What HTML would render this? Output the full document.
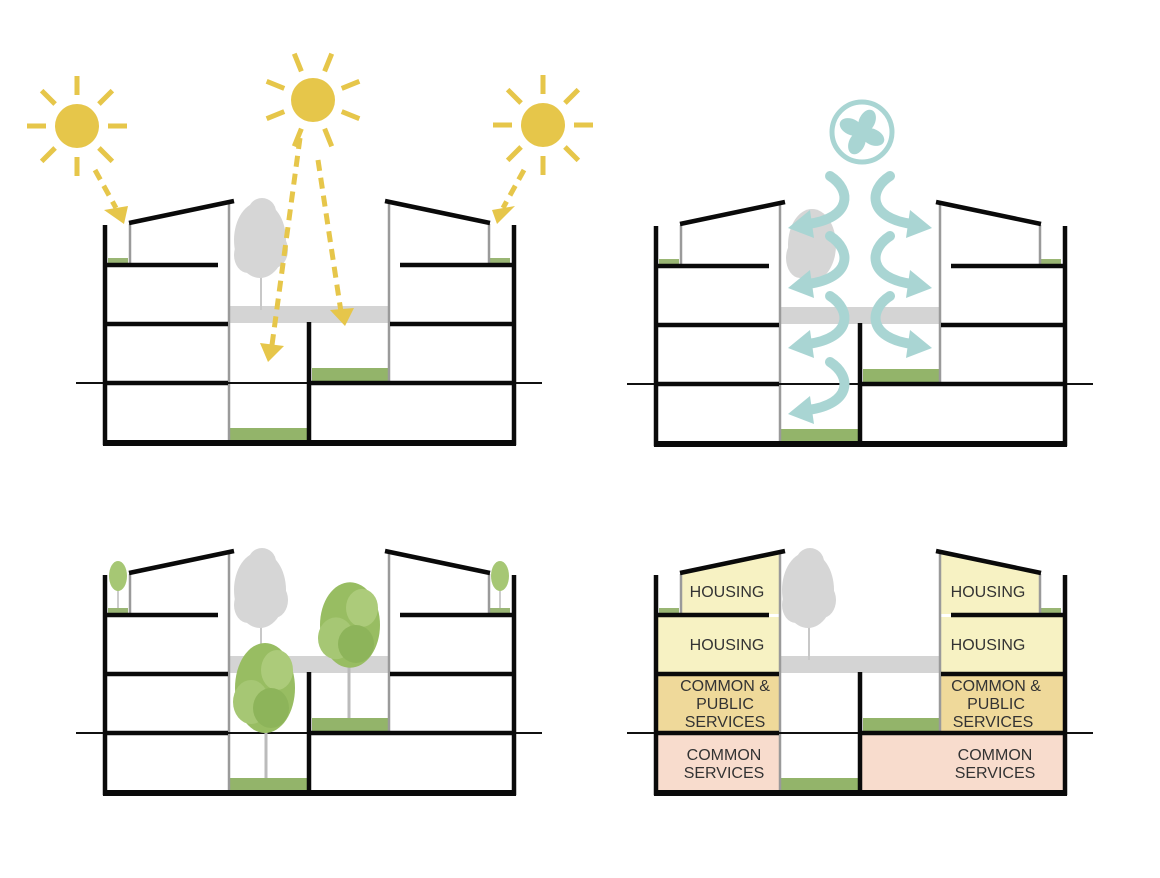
<!DOCTYPE html>
<html><head><meta charset="utf-8"><style>
html,body{margin:0;padding:0;background:#fff;}
svg{display:block;}
text{font-family:"Liberation Sans",sans-serif;font-size:16px;fill:#333;text-anchor:middle;}
</style></head><body>
<svg width="1160" height="878" viewBox="0 0 1160 878" xmlns="http://www.w3.org/2000/svg">
<defs>
  <g id="bld">
    <rect x="230" y="306" width="158" height="17" fill="#d4d4d4"/>
    <rect x="230" y="428" width="77" height="14" fill="#93b46a"/>
    <rect x="312" y="368" width="76" height="14" fill="#93b46a"/>
    <rect x="108" y="258" width="20" height="5" fill="#9ab674"/>
    <rect x="490" y="258" width="20" height="5" fill="#9ab674"/>
    <g stroke="#9a9a9a" stroke-width="2.5" fill="none">
      <line x1="229" y1="203" x2="229" y2="442"/>
      <line x1="389" y1="203" x2="389" y2="383"/>
      <line x1="130" y1="224" x2="130" y2="263"/>
      <line x1="489" y1="224" x2="489" y2="263"/>
    </g>
    <line x1="76" y1="383" x2="542" y2="383" stroke="#111" stroke-width="2"/>
    <g stroke="#0a0a0a" stroke-width="4.5" fill="none">
      <polyline points="105,225 105,443 514,443 514,225"/>
      <line x1="103" y1="443" x2="516" y2="443" stroke-width="6"/>
      <line x1="107" y1="265" x2="218" y2="265"/>
      <line x1="107" y1="324" x2="228" y2="324"/>
      <line x1="107" y1="383" x2="228" y2="383"/>
      <line x1="400" y1="265" x2="512" y2="265"/>
      <line x1="390" y1="324" x2="512" y2="324"/>
      <line x1="311" y1="383" x2="512" y2="383"/>
      <line x1="309" y1="322" x2="309" y2="443"/>
      <line x1="129" y1="223" x2="234" y2="201"/>
      <line x1="385" y1="201" x2="490" y2="223"/>
    </g>
  </g>
  <g id="greytree" fill="#d6d6d6">
    <line x1="261" y1="250" x2="261" y2="310" stroke="#c8c8c8" stroke-width="2"/>
    <ellipse cx="260" cy="240" rx="26" ry="38"/>
    <ellipse cx="262" cy="212" rx="14" ry="14"/>
    <ellipse cx="248" cy="255" rx="14" ry="18"/>
    <ellipse cx="274" cy="250" rx="14" ry="18"/>
  </g>
  <g id="ray"><line x1="0" y1="-31" x2="0" y2="-50" stroke="#e6c64a" stroke-width="5"/></g>
  <g id="sunA">
    <circle r="22" fill="#e6c64a"/>
    <use href="#ray"/><use href="#ray" transform="rotate(45)"/><use href="#ray" transform="rotate(90)"/><use href="#ray" transform="rotate(135)"/>
    <use href="#ray" transform="rotate(180)"/><use href="#ray" transform="rotate(225)"/><use href="#ray" transform="rotate(270)"/><use href="#ray" transform="rotate(315)"/>
  </g>
  <g id="sunB">
    <circle r="22" fill="#e6c64a"/>
    <use href="#ray" transform="rotate(22)"/><use href="#ray" transform="rotate(68)"/><use href="#ray" transform="rotate(112)"/><use href="#ray" transform="rotate(158)"/>
    <use href="#ray" transform="rotate(202)"/><use href="#ray" transform="rotate(248)"/><use href="#ray" transform="rotate(292)"/><use href="#ray" transform="rotate(338)"/>
  </g>
  <g id="arr" fill="#a9d5d3">
    <path d="M0,0 C22,14 22,42 -22,48" stroke="#a9d5d3" stroke-width="10" fill="none" stroke-linecap="round"/>
    <polygon points="-42,52 -20,34 -16,62"/>
  </g>
  <g id="gtree" fill="#98bd62">
    <ellipse cx="0" cy="0" rx="30" ry="45"/>
    <ellipse cx="-14" cy="14" rx="18" ry="22" fill="#a6c774"/>
    <ellipse cx="12" cy="-18" rx="16" ry="20" fill="#accb7a"/>
    <ellipse cx="6" cy="20" rx="18" ry="20" fill="#8db45a"/>
  </g>
</defs>

<use href="#bld"/>
<use href="#greytree"/>
<use href="#sunA" transform="translate(77,126)"/>
<use href="#sunB" transform="translate(313,100)"/>
<use href="#sunA" transform="translate(543,125)"/>
<g stroke="#e6c64a" stroke-width="5" stroke-dasharray="11,7" fill="none">
  <line x1="95" y1="170" x2="116" y2="208"/>
  <line x1="300" y1="138" x2="272" y2="345"/>
  <line x1="318" y1="160" x2="341" y2="312"/>
  <line x1="524" y1="170" x2="503" y2="208"/>
</g>
<g fill="#e6c64a">
  <polygon points="104,210 128,206 124,224"/>
  <polygon points="260,343 284,346 268,362"/>
  <polygon points="330,310 354,308 345,326"/>
  <polygon points="515,206 492,210 497,224"/>
</g>

<g transform="translate(551,1)"><use href="#bld"/></g>
<g fill="#d6d6d6">
  <ellipse cx="812" cy="245" rx="24" ry="36"/>
  <ellipse cx="800" cy="258" rx="14" ry="20"/>
</g>
<circle cx="862" cy="132" r="30" fill="none" stroke="#a9d5d3" stroke-width="5"/>
<g fill="#a9d5d3" transform="translate(862,132)">
  <ellipse cx="0" cy="-12" rx="8" ry="12" transform="rotate(25)"/>
  <ellipse cx="0" cy="-12" rx="8" ry="12" transform="rotate(115)"/>
  <ellipse cx="0" cy="-12" rx="8" ry="12" transform="rotate(205)"/>
  <ellipse cx="0" cy="-12" rx="8" ry="12" transform="rotate(295)"/>
</g>
<use href="#arr" transform="translate(830,176)"/>
<use href="#arr" transform="translate(830,236)"/>
<use href="#arr" transform="translate(830,296)"/>
<use href="#arr" transform="translate(830,362)"/>
<use href="#arr" transform="translate(890,176) scale(-1,1)"/>
<use href="#arr" transform="translate(890,236) scale(-1,1)"/>
<use href="#arr" transform="translate(890,296) scale(-1,1)"/>

<g transform="translate(0,350)"><use href="#bld"/><use href="#greytree"/></g>
<line x1="266" y1="700" x2="266" y2="778" stroke="#bbb" stroke-width="3"/>
<use href="#gtree" transform="translate(265,688)"/>
<line x1="349" y1="640" x2="349" y2="718" stroke="#bbb" stroke-width="3"/>
<use href="#gtree" transform="translate(350,625) scale(1,0.95)"/>
<line x1="118" y1="580" x2="118" y2="608" stroke="#bbb" stroke-width="1.5"/>
<ellipse cx="118" cy="576" rx="9" ry="15" fill="#a6c774"/>
<line x1="500" y1="580" x2="500" y2="608" stroke="#bbb" stroke-width="1.5"/>
<ellipse cx="500" cy="576" rx="9" ry="15" fill="#a6c774"/>

<g transform="translate(551,350)">
  <polygon points="129,573 229,551 229,614 129,614" fill="#f7f2c3" transform="translate(0,-350)"/>
  <rect x="107" y="267" width="121" height="56" fill="#f7f2c3"/>
  <rect x="107" y="326" width="121" height="56" fill="#efd99a"/>
  <rect x="107" y="385" width="121" height="57" fill="#f8dccd"/>
  <polygon points="389,201 489,223 489,264 389,264" fill="#f7f2c3"/>
  <rect x="389" y="267" width="123" height="56" fill="#f7f2c3"/>
  <rect x="389" y="326" width="123" height="56" fill="#efd99a"/>
  <rect x="311" y="385" width="201" height="57" fill="#f8dccd"/>
  <use href="#bld"/>
  <use href="#greytree" transform="translate(-3,0)"/>
</g>
<text x="727" y="597">HOUSING</text>
<text x="727" y="650">HOUSING</text>
<text x="725" y="691">COMMON &amp;</text>
<text x="725" y="709">PUBLIC</text>
<text x="725" y="727">SERVICES</text>
<text x="724" y="760">COMMON</text>
<text x="724" y="778">SERVICES</text>
<text x="988" y="597">HOUSING</text>
<text x="988" y="650">HOUSING</text>
<text x="996" y="691">COMMON &amp;</text>
<text x="996" y="709">PUBLIC</text>
<text x="993" y="727">SERVICES</text>
<text x="995" y="760">COMMON</text>
<text x="995" y="778">SERVICES</text>
</svg>
</body></html>
